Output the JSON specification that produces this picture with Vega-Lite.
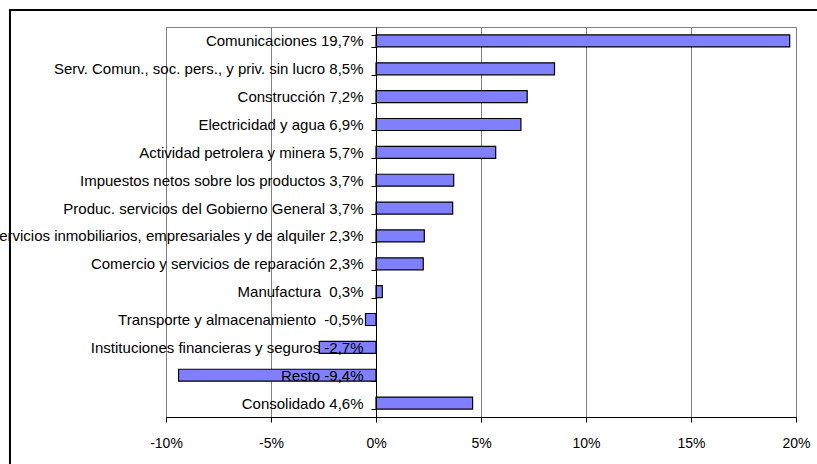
{
  "$schema": "https://vega.github.io/schema/vega-lite/v6.json",
  "autosize": {"type": "none"},
  "width": 630,
  "height": 390,
  "padding": {"left": 166, "top": 27, "right": 21, "bottom": 47},
  "background": "white",
  "config": {
    "font": "Liberation Sans",
    "view": {"stroke": "#808080", "strokeWidth": 1}
  },
  "datasets": {
    "sectores": [
      {"label": "Comunicaciones 19,7%", "value": 19.7},
      {"label": "Serv. Comun., soc. pers., y priv. sin lucro 8,5%", "value": 8.5},
      {"label": "Construcción 7,2%", "value": 7.2},
      {"label": "Electricidad y agua 6,9%", "value": 6.9},
      {"label": "Actividad petrolera y minera 5,7%", "value": 5.7},
      {"label": "Impuestos netos sobre los productos 3,7%", "value": 3.7},
      {"label": "Produc. servicios del Gobierno General 3,7%", "value": 3.65},
      {"label": "Servicios inmobiliarios, empresariales y de alquiler 2,3%", "value": 2.3},
      {"label": "Comercio y servicios de reparación 2,3%", "value": 2.25},
      {"label": "Manufactura\u00a0 0,3%", "value": 0.3},
      {"label": "Transporte y almacenamiento\u00a0 -0,5%", "value": -0.5},
      {"label": "Instituciones financieras y seguros -2,7%", "value": -2.7},
      {"label": "Resto -9,4%", "value": -9.4},
      {"label": "Consolidado 4,6%", "value": 4.6}
    ]
  },
  "resolve": {"scale": {"y": "independent"}},
  "layer": [
    {
      "data": {"name": "sectores"},
      "mark": {"type": "bar", "fill": "#8080FF", "stroke": "black", "strokeWidth": 1.2},
      "encoding": {
        "y": {
          "field": "label",
          "type": "nominal",
          "sort": null,
          "scale": {"paddingInner": 0.57, "paddingOuter": 0.285},
          "axis": {
            "title": null,
            "offset": -210,
            "zindex": 1,
            "domainColor": "black",
            "domainWidth": 1,
            "tickColor": "black",
            "tickSize": 5,
            "tickBand": "extent",
            "labelColor": "black",
            "labelFontSize": 15,
            "labelPadding": 8,
            "labelLimit": 600,
            "grid": false
          }
        },
        "x": {
          "field": "value",
          "type": "quantitative",
          "scale": {"domain": [-10, 20], "nice": false},
          "axis": {
            "title": null,
            "values": [-10, -5, 0, 5, 10, 15, 20],
            "labelExpr": "datum.value + '%'",
            "grid": true,
            "gridColor": "#808080",
            "gridWidth": 1,
            "domainColor": "black",
            "tickColor": "black",
            "tickSize": 5,
            "labelColor": "black",
            "labelFontSize": 14,
            "labelPadding": 14,
            "labelFlush": false
          }
        }
      }
    },
    {
      "data": {"values": [{}]},
      "mark": {"type": "rule", "color": "black", "strokeWidth": 2},
      "encoding": {
        "x": {"datum": -17.43, "type": "quantitative"},
        "y": {"datum": -0.2, "type": "quantitative", "scale": {"domain": [0, 1], "nice": false}, "axis": null},
        "y2": {"datum": 1.0436}
      }
    },
    {
      "data": {"values": [{}]},
      "mark": {"type": "rule", "color": "black", "strokeWidth": 2},
      "encoding": {
        "x": {"datum": -17.48, "type": "quantitative"},
        "x2": {"datum": 23},
        "y": {"datum": 1.0436, "type": "quantitative", "scale": {"domain": [0, 1], "nice": false}, "axis": null}
      }
    }
  ]
}
